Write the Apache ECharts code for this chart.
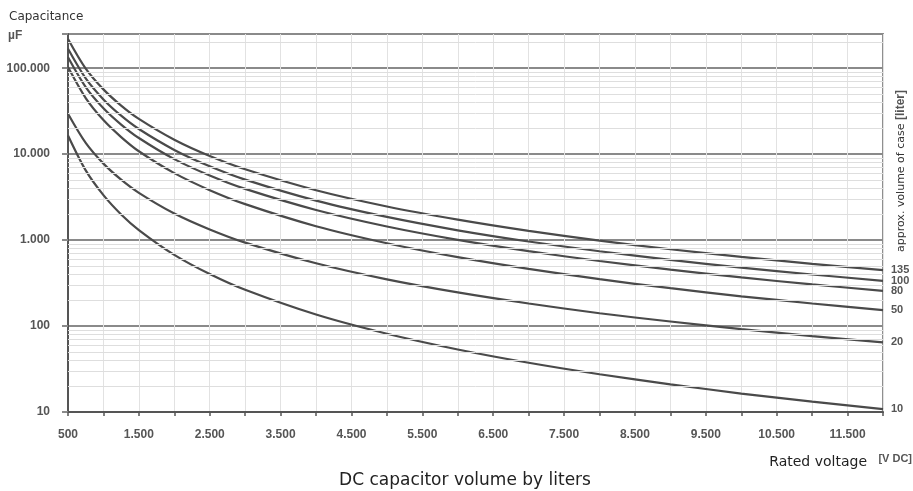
<!DOCTYPE html>
<html>
<head>
<meta charset="utf-8">
<script src="https://cdn.jsdelivr.net/npm/echarts@6/dist/echarts.min.js"></script>
<style>
  html, body { margin: 0; padding: 0; background: #fff; }
  #box { width: 913px; height: 491px; }
</style>
</head>
<body>
<div id="box"></div>
<script>
//%% 1 data
let voltage = [500, 750, 1000, 1250, 1500, 2000, 2500, 3000, 4000, 5000, 6000, 7000, 8000, 9000, 10000, 11000, 12000];
let v135 = [219000, 99000, 56700, 36700, 25700, 14700, 9500, 6660, 3800, 2460, 1730, 1280, 985, 782, 637, 530, 447];
let v100 = [168000, 76000, 43300, 28000, 19600, 11200, 7220, 5050, 2880, 1860, 1300, 963, 742, 589, 479, 398, 336];
let v80 = [134000, 60300, 34200, 22100, 15400, 8750, 5640, 3940, 2240, 1440, 1006, 743, 571, 453, 368, 305, 257];
let v50 = [103000, 44900, 24900, 15800, 10800, 6010, 3810, 2620, 1450, 920, 633, 462, 351, 276, 222, 183, 153];
let v20 = [29500, 13500, 7760, 5050, 3550, 2040, 1330, 934, 537, 349, 246, 183, 141, 113, 92, 76.5, 64.7];
let v10 = [16500, 6480, 3340, 1990, 1310, 674, 403, 264, 136, 81.4, 53.4, 37.4, 27.5, 21.0, 16.4, 13.2, 10.8];
let seriesNames = ["135", "100", "80", "50", "20", "10"];
let seriesValues = [v135, v100, v80, v50, v20, v10];

//%% 2 tick labels
let xLabels = ["500", "1.500", "2.500", "3.500", "4.500", "5.500", "6.500", "7.500", "8.500", "9.500", "10.500", "11.500"];
let yLabels = ["10", "100", "1.000", "10.000", "100.000"];
let minorLines = [20, 30, 40, 50, 60, 70, 80, 90, 200, 300, 400, 500, 600, 700, 800, 900,
  2000, 3000, 4000, 5000, 6000, 7000, 8000, 9000, 20000, 30000, 40000, 50000, 60000, 70000, 80000, 90000, 200000];

let narrow = "'Liberation Sans Narrow', 'Liberation Sans', Arial, sans-serif";
let plain = "'DejaVu Sans', sans-serif";

let chart = echarts.init(document.getElementById("box"), null, { renderer: "canvas" });

let series = [];
// light minor grid lines (2..9 of each decade)
series.push({
  type: "line",
  data: [],
  silent: true,
  z: 1,
  markLine: {
    silent: true,
    symbol: "none",
    animation: false,
    label: { show: false },
    lineStyle: { color: "#dedede", width: 1, type: "solid" },
    data: minorLines.map(v => ({ yAxis: v }))
  }
});
seriesValues.forEach((vals, i) => {
  series.push({
    type: "line",
    name: seriesNames[i],
    data: voltage.map((v, j) => [v, vals[j]]),
    smooth: 0.3,
    symbol: "none",
    z: 3,
    lineStyle: { color: "#4a4a4a", width: 2.2 },
    endLabel: {
      show: true,
      formatter: seriesNames[i],
      distance: 8,
      fontFamily: narrow,
      fontWeight: "bold",
      fontSize: 11,
      color: "#555"
    }
  });
});

let option = {
  animation: false,
  grid: {
    left: 68, right: 30, top: 34, bottom: 79,
    show: true, borderColor: "#8f8f8f", borderWidth: 2,
    outerBoundsMode: "none"
  },
  xAxis: {
    type: "value",
    min: 500, max: 12000, interval: 500,
    axisLine: { show: true, lineStyle: { color: "#555", width: 2 } },
    axisTick: { show: true, length: 4, lineStyle: { color: "#555", width: 1.5 } },
    splitLine: { show: true, lineStyle: { color: "#e2e2e2", width: 1 } },
    axisLabel: {
      margin: 17,
      fontFamily: narrow, fontWeight: "bold", fontSize: 12, color: "#555",
      formatter: v => {
        let k = (v - 500) / 1000;
        return Number.isInteger(k) ? (xLabels[k] || "") : "";
      }
    }
  },
  yAxis: {
    type: "log", logBase: 10,
    min: 10, max: 250000,
    axisLine: { show: true, lineStyle: { color: "#555", width: 2 } },
    axisTick: { show: true, length: 6, lineStyle: { color: "#8a8a8a", width: 2 } },
    splitLine: { show: true, lineStyle: { color: "#8a8a8a", width: 2 } },
    axisLabel: {
      margin: 18,
      fontFamily: narrow, fontWeight: "bold", fontSize: 12, color: "#555",
      formatter: v => {
        let l = Math.log10(v), r = Math.round(l);
        return Math.abs(l - r) < 1e-6 ? (yLabels[r - 1] || "") : "";
      }
    }
  },
  graphic: [
    { type: "text", left: 9, top: 11, style: { text: "Capacitance", font: "12px " + plain, fill: "#333" } },
    { type: "text", left: 8, top: 30, style: { text: "µF", font: "bold 12px " + narrow, fill: "#555" } },
    { type: "text", x: 867, y: 462, style: { text: "Rated voltage", font: "14px " + plain, fill: "#222", align: "right", verticalAlign: "middle" } },
    { type: "text", x: 912, y: 459, style: { text: "[V DC]", font: "bold 11px " + narrow, fill: "#555", align: "right", verticalAlign: "middle" } },
    { type: "text", x: 465, y: 481, style: { text: "DC capacitor volume by liters", font: "17px " + plain, fill: "#222", align: "center", verticalAlign: "middle" } },
    {
      type: "text", x: 901, y: 171, rotation: Math.PI / 2,
      style: {
        text: "{a|approx. volume of case }{b|[liter]}",
        align: "center", verticalAlign: "middle",
        rich: {
          a: { fontFamily: plain, fontSize: 11, fill: "#333", color: "#333" },
          b: { fontFamily: narrow, fontWeight: "bold", fontSize: 12, fill: "#555", color: "#555" }
        }
      }
    }
  ],
  series: series
};

chart.setOption(option);
</script>
</body>
</html>
